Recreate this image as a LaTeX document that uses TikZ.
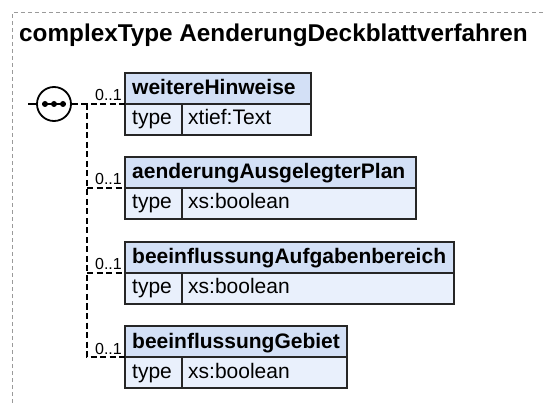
\documentclass[tikz,border=0pt]{standalone}
\usepackage{fontspec}
\setmainfont{Liberation Sans}
\definecolor{hdr}{HTML}{D3E0F6}
\definecolor{bdy}{HTML}{E9F0FC}
\definecolor{frm}{HTML}{9A9A9A}
\definecolor{edge}{HTML}{262626}
\begin{document}
\begin{tikzpicture}[x=1pt,y=-1pt,
  cell/.style={draw=edge,line width=1.6pt,inner sep=0pt,outer sep=0pt,anchor=north west,minimum height=31pt},
  hdrcell/.style={cell,fill=hdr},
  bdycell/.style={cell,fill=bdy},
  hdrtext/.style={anchor=base west,inner sep=0pt,font=\bfseries\fontsize{21}{24}\selectfont},
  bdytext/.style={anchor=base west,inner sep=0pt,font=\fontsize{21}{24}\selectfont},
  mult/.style={anchor=base east,inner sep=0pt,font=\fontsize{16}{18}\selectfont},
  conn/.style={draw=black,line width=1.4pt,dash pattern=on 6pt off 3.5pt},
  frame/.style={draw=frm,line width=1pt,dash pattern=on 4pt off 3pt}]
\useasboundingbox (0,0) rectangle (546,403);
% outer frame
\coordinate (fbl) at (12,403);
\coordinate (ftl) at (12,13);
\coordinate (ftr) at (546,13);
\draw[frame] (fbl) -- (ftl) -- (ftr);
% title
\node[anchor=base west,inner sep=0pt,font=\bfseries\fontsize{24.3}{28}\selectfont] (title) at (19,42) {complexType AenderungDeckblattverfahren};
% sequence compositor
\node[circle,draw=black,line width=1.8pt,fill=white,minimum size=34pt,inner sep=0pt] (seq) at (54,104) {};
\draw[line width=1.8pt] (42,104) -- (66,104);
\fill (45,104) circle (3) (54,104) circle (3) (63,104) circle (3);
\coordinate (in) at (28,104);
\draw[line width=1.5pt] (in) -- (seq.west);
% elements
\node[hdrcell,minimum width=186pt] (h1) at (125,73) {};
\node[bdycell,minimum width=57pt] (t1) at (h1.south west) {};
\node[bdycell,minimum width=129pt] (v1) at (t1.north east) {};
\node[hdrtext] (n1) at (132,95) {weitereHinweise};
\node[bdytext] (k1) at (132,125) {type};
\node[bdytext] (y1) at (188,125) {xtief:Text};

\node[hdrcell,minimum width=291pt] (h2) at (125,157) {};
\node[bdycell,minimum width=57pt] (t2) at (h2.south west) {};
\node[bdycell,minimum width=234pt] (v2) at (t2.north east) {};
\node[hdrtext] (n2) at (132,179) {aenderungAusgelegterPlan};
\node[bdytext] (k2) at (132,209) {type};
\node[bdytext] (y2) at (188,209) {xs:boolean};

\node[hdrcell,minimum width=329pt] (h3) at (125,242) {};
\node[bdycell,minimum width=57pt] (t3) at (h3.south west) {};
\node[bdycell,minimum width=272pt] (v3) at (t3.north east) {};
\node[hdrtext] (n3) at (132,264) {beeinflussungAufgabenbereich};
\node[bdytext] (k3) at (132,294) {type};
\node[bdytext] (y3) at (188,294) {xs:boolean};

\node[hdrcell,minimum width=222pt] (h4) at (125,326) {};
\node[bdycell,minimum width=57pt] (t4) at (h4.south west) {};
\node[bdycell,minimum width=165pt] (v4) at (t4.north east) {};
\node[hdrtext] (n4) at (132,348) {beeinflussungGebiet};
\node[bdytext] (k4) at (132,378) {type};
\node[bdytext] (y4) at (188,378) {xs:boolean};
% connectors
\coordinate (c0) at (87,104);
\draw[conn] (seq.east) -- (c0) -- (h1.south west);
\draw[conn] (c0) -- (c0 |- h4.south west) -- (h4.south west);
\draw[conn] (c0 |- h2.south west) -- (h2.south west);
\draw[conn] (c0 |- h3.south west) -- (h3.south west);
% multiplicities
\node[mult] (m1) at (122,101) {0..1};
\node[mult] (m2) at (122,185) {0..1};
\node[mult] (m3) at (122,270) {0..1};
\node[mult] (m4) at (122,354) {0..1};
\end{tikzpicture}
\end{document}
